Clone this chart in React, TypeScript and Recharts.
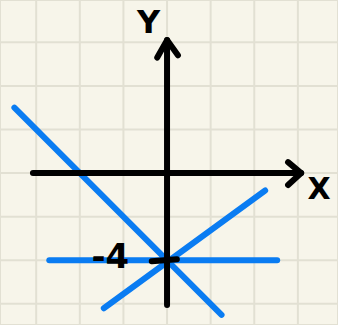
import { CartesianGrid, ComposedChart, Line, ReferenceDot, XAxis, YAxis } from 'recharts'

interface Pt {
  x: number
  y: number
}

// one grid square = 2 units
const GRID_X = [-6, -4, -2, 0, 2, 4, 6]
const GRID_Y = [-6, -4, -2, 0, 2, 4, 6]

const LINE_DOWN: Pt[] = [
  { x: -7, y: 3 },
  { x: 2.5, y: -6.5 },
]
const LINE_UP: Pt[] = [
  { x: -2.9, y: -6.2 },
  { x: 4.5, y: -0.8 },
]
const LINE_FLAT: Pt[] = [
  { x: -5.4, y: -4 },
  { x: 5.05, y: -4 },
]

const X_AXIS: Pt[] = [
  { x: -6.15, y: 0 },
  { x: 6.15, y: 0 },
]
const X_HEAD: Pt[] = [
  { x: 5.55, y: 0.5 },
  { x: 6.15, y: 0 },
  { x: 5.55, y: -0.55 },
]
const Y_AXIS: Pt[] = [
  { x: 0, y: -6.05 },
  { x: 0, y: 6.1 },
]
const Y_HEAD: Pt[] = [
  { x: -0.45, y: 5.3 },
  { x: 0, y: 6.1 },
  { x: 0.5, y: 5.4 },
]
const TICK_MARK: Pt[] = [
  { x: -0.7, y: -4.05 },
  { x: 0.45, y: -3.95 },
]

const LABELS = [
  { x: -0.85, y: 6.95, text: 'Y', size: 32 },
  { x: 6.97, y: -0.7, text: 'X', size: 30 },
  { x: -2.6, y: -3.8, text: '-4', size: 34 },
]

const BLUE = '#0A7CF2'
const INK = '#000000'

export default function App() {
  const blue = [LINE_DOWN, LINE_UP, LINE_FLAT]
  const ink = [X_AXIS, X_HEAD, Y_AXIS, Y_HEAD, TICK_MARK]
  return (
    <div style={{ position: 'absolute', left: 0, top: 0, width: 338, height: 325, background: '#F7F5EA' }}>
      <ComposedChart width={338} height={325} margin={{ top: 0, right: 0, bottom: 0, left: 0 }}>
        <XAxis type="number" dataKey="x" domain={[-7.66, 7.84]} ticks={GRID_X} hide allowDataOverflow />
        <YAxis type="number" dataKey="y" domain={[-6.97, 7.94]} ticks={GRID_Y} hide allowDataOverflow />
        <CartesianGrid stroke="#E2E0D3" strokeWidth={2} />
        {blue.map((d, i) => (
          <Line
            key={`b${i}`}
            data={d}
            dataKey="y"
            stroke={BLUE}
            strokeWidth={6}
            strokeLinecap="round"
            dot={false}
            activeDot={false}
            isAnimationActive={false}
          />
        ))}
        {ink.map((d, i) => (
          <Line
            key={`k${i}`}
            data={d}
            dataKey="y"
            stroke={INK}
            strokeWidth={6}
            strokeLinecap="round"
            strokeLinejoin="round"
            dot={false}
            activeDot={false}
            isAnimationActive={false}
          />
        ))}
        {LABELS.map((l) => (
          <ReferenceDot
            key={l.text}
            x={l.x}
            y={l.y}
            r={0}
            fill="none"
            stroke="none"
            label={{
              value: l.text,
              position: 'center',
              fill: INK,
              fontSize: l.size,
              fontWeight: 'bold',
              fontFamily: 'DejaVu Sans',
            }}
          />
        ))}
      </ComposedChart>
    </div>
  )
}
